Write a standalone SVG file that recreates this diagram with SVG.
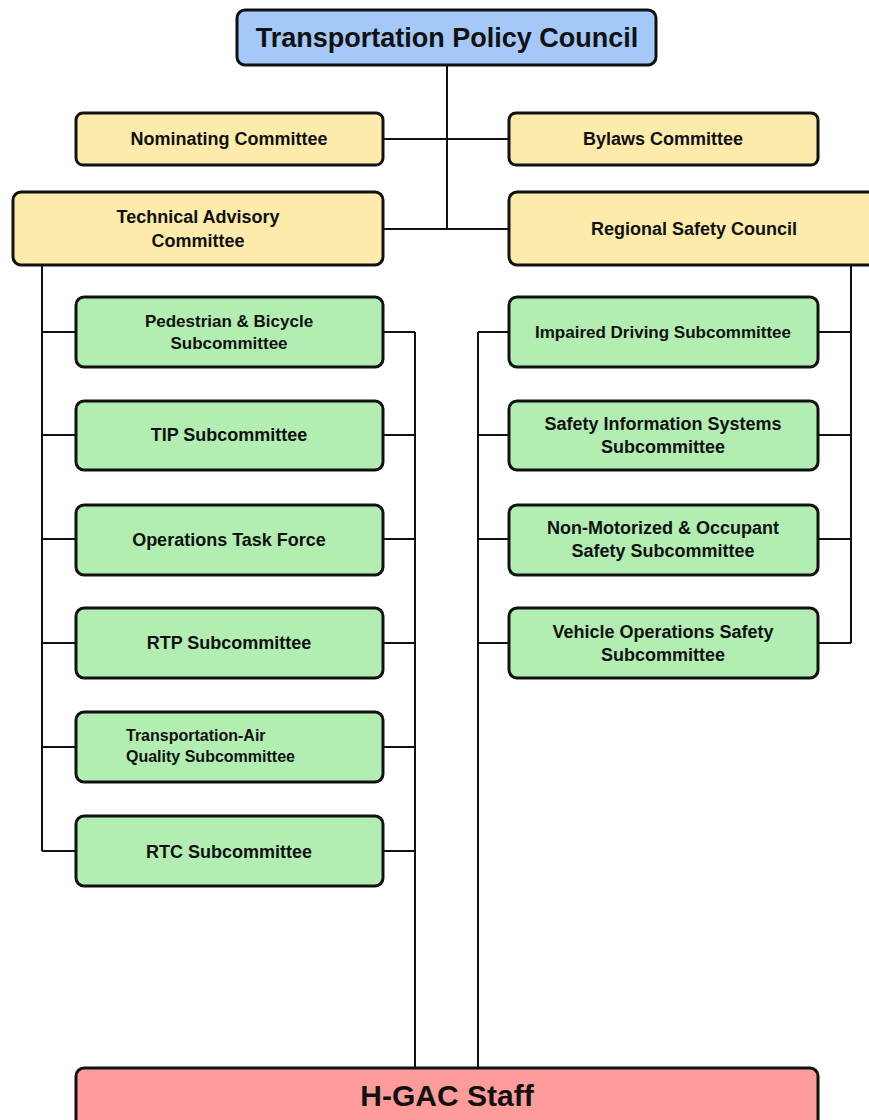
<svg xmlns="http://www.w3.org/2000/svg" width="869" height="1120" viewBox="0 0 869 1120">
<style>
.box{stroke:#111;stroke-width:3}
.blue{fill:#A4C8F8}
.yel{fill:#FCEBAA}
.grn{fill:#B2EEB1}
.red{fill:#FE9C9C}
.ln{stroke:#111;stroke-width:2;fill:none}
text{font-family:"Liberation Sans",Arial,sans-serif;font-weight:bold;fill:#111;text-anchor:middle}
.t18{font-size:18px}
.t17{font-size:17px}
.t16{font-size:16px}
</style>
<rect width="869" height="1120" fill="#fff"/>
<g id="connectors">
<path class="ln" d="M447 65V229M383 139H509M383 229H509"/>
<path class="ln" d="M42 265V851M42 332H76M42 435H76M42 539H76M42 643H76M42 747H76M42 851H76"/>
<path class="ln" d="M415 332V1068M383 332H415M383 435H415M383 539H415M383 643H415M383 747H415M383 851H415"/>
<path class="ln" d="M851 265V643M818 332H851M818 435H851M818 539H851M818 643H851"/>
<path class="ln" d="M478 332V1068M478 332H509M478 435H509M478 539H509M478 643H509"/>
</g>
<g id="tpc"><rect class="box blue" x="237" y="10" width="419" height="55" rx="8"/><text x="447" y="47" style="font-size:27px">Transportation Policy Council</text></g>
<g id="nominating"><rect class="box yel" x="76" y="113" width="307" height="52" rx="7"/><text class="t18" x="229" y="145">Nominating Committee</text></g>
<g id="bylaws"><rect class="box yel" x="509" y="113" width="309" height="52" rx="7"/><text class="t18" x="663" y="145">Bylaws Committee</text></g>
<g id="tac"><rect class="box yel" x="13" y="192" width="370" height="73" rx="8"/><text class="t18" x="198" y="223">Technical Advisory</text><text class="t18" x="198" y="247">Committee</text></g>
<g id="rsc"><rect class="box yel" x="509" y="192" width="372" height="73" rx="8"/><text class="t18" x="694" y="235">Regional Safety Council</text></g>
<g id="ped"><rect class="box grn" x="76" y="297" width="307" height="70" rx="8"/><text class="t17" x="229" y="327">Pedestrian &amp; Bicycle</text><text class="t17" x="229" y="349">Subcommittee</text></g>
<g id="tip"><rect class="box grn" x="76" y="401" width="307" height="69" rx="8"/><text class="t18" x="229" y="441">TIP Subcommittee</text></g>
<g id="ops"><rect class="box grn" x="76" y="505" width="307" height="70" rx="8"/><text class="t18" x="229" y="546">Operations Task Force</text></g>
<g id="rtp"><rect class="box grn" x="76" y="608" width="307" height="70" rx="8"/><text class="t18" x="229" y="649">RTP Subcommittee</text></g>
<g id="taq"><rect class="box grn" x="76" y="712" width="307" height="70" rx="8"/><text class="t16" x="126" y="741" style="text-anchor:start">Transportation-Air</text><text class="t16" x="126" y="762" style="text-anchor:start">Quality Subcommittee</text></g>
<g id="rtc"><rect class="box grn" x="76" y="816" width="307" height="70" rx="8"/><text class="t18" x="229" y="858">RTC Subcommittee</text></g>
<g id="impaired"><rect class="box grn" x="509" y="297" width="309" height="70" rx="8"/><text class="t17" x="663" y="338">Impaired Driving Subcommittee</text></g>
<g id="sis"><rect class="box grn" x="509" y="401" width="309" height="69" rx="8"/><text class="t18" x="663" y="430">Safety Information Systems</text><text class="t18" x="663" y="453">Subcommittee</text></g>
<g id="nonmot"><rect class="box grn" x="509" y="505" width="309" height="70" rx="8"/><text class="t18" x="663" y="534">Non-Motorized &amp; Occupant</text><text class="t18" x="663" y="557">Safety Subcommittee</text></g>
<g id="vehicle"><rect class="box grn" x="509" y="608" width="309" height="70" rx="8"/><text class="t18" x="663" y="638">Vehicle Operations Safety</text><text class="t18" x="663" y="661">Subcommittee</text></g>
<g id="hgac"><rect class="box red" x="76" y="1068" width="742" height="62" rx="8"/><text x="447" y="1106" style="font-size:30px">H-GAC Staff</text></g>
</svg>
